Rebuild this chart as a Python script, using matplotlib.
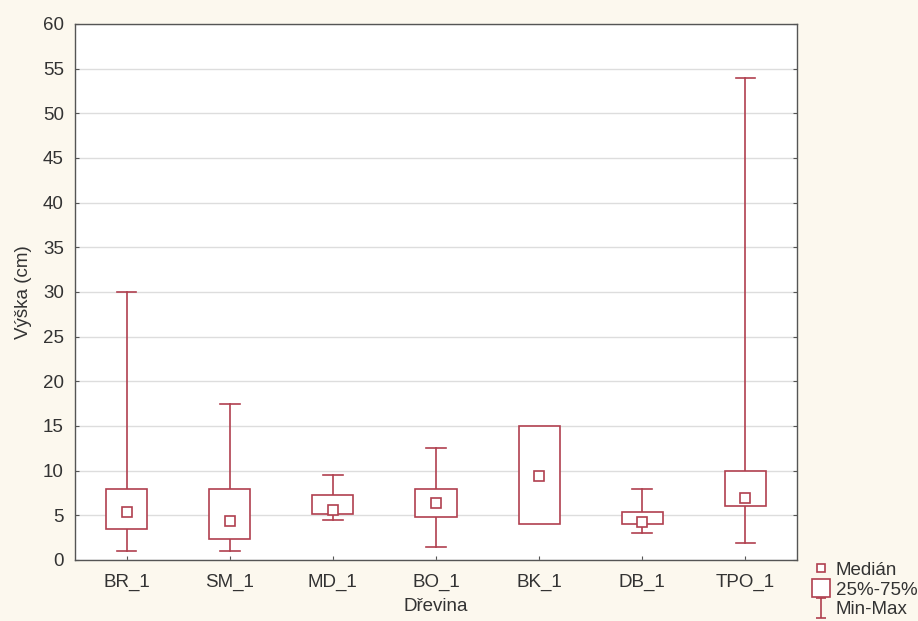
import matplotlib
matplotlib.use("Agg")
import matplotlib.pyplot as plt
from matplotlib.lines import Line2D
from matplotlib.patches import Rectangle
from matplotlib.path import Path

plt.rcParams['font.family'] = ['Liberation Sans', 'DejaVu Sans']

categories = ["BR_1", "SM_1", "MD_1", "BO_1", "BK_1", "DB_1", "TPO_1"]
mins    = [1.0, 1.0, 4.5, 1.4, 4.0, 3.0, 1.9]
q1s     = [3.5, 2.4, 5.1, 4.8, 4.0, 4.0, 6.0]
medians = [5.4, 4.4, 5.6, 6.4, 9.4, 4.2, 6.9]
q3s     = [8.0, 8.0, 7.3, 8.0, 15.0, 5.4, 10.0]
maxs    = [30.0, 17.5, 9.5, 12.5, 15.0, 8.0, 54.0]
yticks = list(range(0, 61, 5))

color = "#b0404f"
bg = "#fcf8ee"
txt = "#333333"
fs = 13.5

fig = plt.figure(figsize=(9.18, 6.21), dpi=100, facecolor=bg)
ax = fig.add_axes([75/918, 1-560/621, (797-75)/918, (560-24)/621])
ax.set_facecolor("white")

bw = 0.40
cw = 0.19
for i, c in enumerate(categories):
    x = i + 0.5
    ax.plot([x, x], [q3s[i], maxs[i]], color=color, lw=1.2, zorder=3)
    ax.plot([x, x], [mins[i], q1s[i]], color=color, lw=1.2, zorder=3)
    if maxs[i] > q3s[i]:
        ax.plot([x - cw/2, x + cw/2], [maxs[i], maxs[i]], color=color, lw=1.2, zorder=3)
    if mins[i] < q1s[i]:
        ax.plot([x - cw/2, x + cw/2], [mins[i], mins[i]], color=color, lw=1.2, zorder=3)
    ax.add_patch(Rectangle((x - bw/2, q1s[i]), bw, q3s[i] - q1s[i],
                           facecolor="white", edgecolor=color, lw=1.2, zorder=4))
    ax.plot([x], [medians[i]], marker="s", ms=7, mfc="white", mec=color, mew=1.2, zorder=5)

ax.set_xlim(0, len(categories))
ax.set_ylim(0, 60)
ax.set_yticks(yticks)
ax.set_xticks([i + 0.5 for i in range(len(categories))])
ax.set_xticklabels(categories)
ax.grid(axis="y", color="#dddddd", lw=1)
ax.set_axisbelow(True)
ax.tick_params(direction="in", length=3, labelsize=fs, labelcolor=txt, colors="#555555",
               right=True, top=False)
ax.tick_params(axis="y", pad=8)
ax.tick_params(axis="x", pad=10)
for s in ax.spines.values():
    s.set_color("#555555")
    s.set_linewidth(1)

ax.set_ylabel("Výška (cm)", fontsize=fs, color=txt, labelpad=8)
ax.set_xlabel("Dřevina", fontsize=fs, color=txt, labelpad=5)

imark = Path([(-0.5, -1), (0.5, -1), (0, -1), (0, 1), (-0.5, 1), (0.5, 1)],
             [Path.MOVETO, Path.LINETO, Path.MOVETO, Path.LINETO, Path.MOVETO, Path.LINETO])
handles = [
    Line2D([], [], marker="s", ls="none", ms=6, mfc="white", mec=color, mew=1.2),
    Line2D([], [], marker="s", ls="none", ms=13, mfc="white", mec=color, mew=1.2),
    Line2D([], [], marker=imark, ls="none", ms=14, mfc="none", mec=color, mew=1.2),
]
leg = fig.legend(handles, ["Medián", "25%-75%", "Min-Max"], loc="upper left",
                 bbox_to_anchor=(804/918, 1-554/621), frameon=False, fontsize=fs,
                 handlelength=1.0, handletextpad=0.3, labelspacing=0.15, borderaxespad=0,
                 labelcolor=txt)

fig.savefig("out.png", dpi=100, facecolor=bg)
